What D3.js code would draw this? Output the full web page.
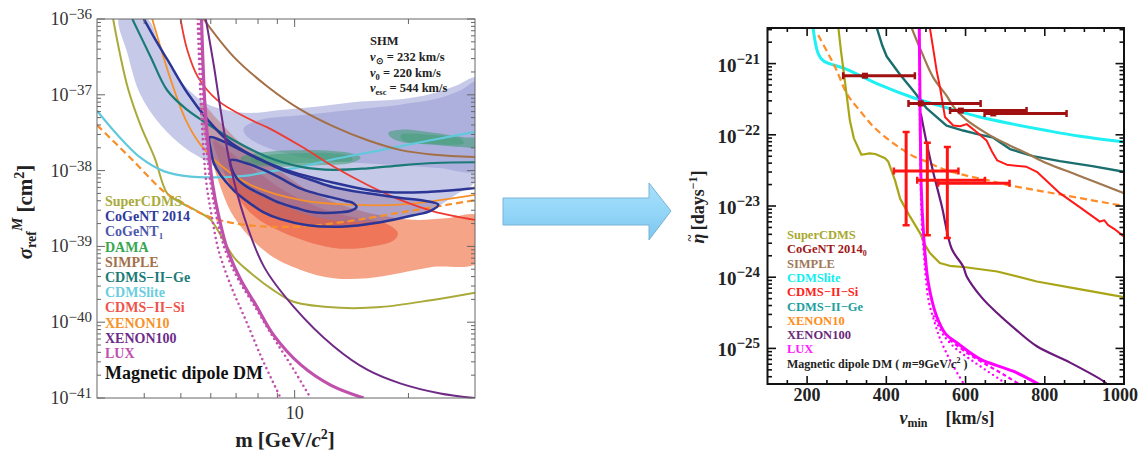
<!DOCTYPE html>
<html><head><meta charset="utf-8">
<script src="https://cdn.jsdelivr.net/npm/d3@7"></script>
<style>
body{margin:0;background:#fff;}
svg{display:block;}
text{font-family:'Liberation Serif','Times New Roman',Times,serif;}
</style></head><body>
<svg id="chart" width="1140" height="453" font-family="Liberation Serif, Times New Roman, serif"></svg>
<script>
"use strict";

// ---------- left panel data: [m (GeV), log10 sigma (cm^2)] ----------
const superCdmsL = [[3.31,-36],[3.44,-36.43],[3.62,-36.91],[3.91,-37.4],[4.26,-37.83],[4.6,-38.3],[4.9,-38.4],[5.64,-38.56],[6.0,-38.65],[6.9,-39.14],[7.65,-39.35],[8.8,-39.58],[9.94,-39.73],[13.2,-39.81],[16.9,-39.8],[22.9,-39.71],[30,-39.61]];
const cdmsLiteL = [[3,-37.21],[3.4,-37.53],[3.91,-37.83],[4.52,-38.01],[5.3,-38.08],[6.24,-38.09],[7.36,-38.07],[8.64,-38.01],[10.2,-37.96],[12.4,-37.86],[16.9,-37.73],[22.9,-37.6],[30,-37.49]];
const xenon10DashL = [[3,-37.4],[3.69,-37.84],[4.52,-38.28],[5.0,-38.41],[5.43,-38.52],[6.1,-38.63],[7.5,-38.72],[10.2,-38.74],[13.8,-38.67],[18.7,-38.56],[25.4,-38.45],[30,-38.39]];
const xenon10L = [[4.2,-36],[4.7,-36.8],[5.15,-37.33],[5.64,-37.66],[6.37,-37.93],[7.65,-38.19],[10.4,-38.39],[14,-38.45],[19,-38.45],[30,-38.32]];
const simpleL = [[5.74,-36],[6.9,-36.5],[8.47,-36.89],[10.4,-37.2],[12.7,-37.42],[15.6,-37.6],[19.1,-37.73],[23.4,-37.79],[30,-37.82]];
const cdmsGeL = [[3.72,-36],[4.16,-36.5],[4.6,-36.94],[5.2,-37.2],[5.87,-37.38],[6.9,-37.6],[8.47,-37.82],[10.4,-37.95],[12.7,-37.99],[15.6,-37.97],[19.1,-37.93],[23.4,-37.9],[30,-37.89]];
const cdmsSiL = [[4.99,-36],[5.2,-36.41],[5.54,-36.76],[6.24,-37.07],[7.65,-37.33],[8.47,-37.43],[10.4,-37.68],[12.7,-37.95],[15.6,-38.19],[19.1,-38.39],[23.4,-38.54],[30,-38.65]];
const cogentLineL = [[3.99,-36],[4.29,-36.28],[4.61,-36.54],[5.21,-36.98],[5.89,-37.33],[6.65,-37.6],[7.65,-37.79],[9.35,-37.98],[12.68,-38.16],[16.88,-38.28],[22.9,-38.28],[30,-38.23]];
const xenon100L = [[5.82,-36],[6.12,-36.63],[6.37,-37.2],[6.77,-37.95],[7.35,-38.61],[8.3,-39.27],[9.96,-39.8],[12.7,-40.32],[15.6,-40.63],[19.1,-40.81],[24.3,-40.94],[30,-41]];
const luxL = [[5.67,-36],[5.78,-37.07],[5.92,-37.73],[6.07,-38.19],[6.29,-38.59],[6.65,-39.05],[7.2,-39.44],[7.89,-39.77],[8.8,-40.17],[10.37,-40.56],[12.45,-40.83],[15.22,-41]];
const luxDotAL = [[5.54,-36],[5.64,-37.07],[5.74,-37.73],[5.85,-38.19],[6.03,-38.59],[6.29,-39.05],[6.77,-39.51],[7.42,-39.97],[8.23,-40.5],[9.18,-41]];
const luxDotBL = [[5.6,-36],[5.72,-37.07],[5.85,-37.73],[6.0,-38.19],[6.2,-38.59],[6.55,-39.05],[7.1,-39.44],[7.8,-39.77],[8.7,-40.17],[9.76,-40.56],[11.02,-41]];

// regions (closed outlines)
const cogent1Light = [[4.08,-36],[4.42,-36.41],[4.84,-36.74],[5.31,-36.96],[5.82,-37.11],[6.57,-37.2],[7.65,-37.24],[9.18,-37.2],[11.71,-37.15],[14.95,-37.09],[19.07,-37.06],[22.9,-36.99],[26.7,-36.88],[30.5,-36.78],[30.5,-38.1],[26.7,-38.32],[22.9,-38.52],[19.07,-38.63],[14.95,-38.68],[11.71,-38.63],[9.18,-38.45],[7.2,-38.19],[5.89,-37.89],[5.12,-37.7],[4.42,-37.4],[3.91,-37.0],[3.62,-36.47],[3.44,-35.98]];
const cogent1Dark = [[7.33,-37.44],[8.13,-37.33],[10.37,-37.27],[14.06,-37.2],[19.07,-37.13],[24.33,-37.04],[27.49,-36.94],[30.5,-36.83],[30.5,-37.99],[24.33,-37.97],[19.07,-37.93],[14.95,-37.9],[11.71,-37.86],[9.76,-37.79],[8.13,-37.66],[7.42,-37.53]];
const siLight = [[5.64,-37.11],[6.37,-37.37],[7.2,-37.64],[8.13,-37.82],[9.58,-38.08],[11.22,-38.3],[13.81,-38.48],[16.88,-38.59],[20.6,-38.65],[25.08,-38.63],[30.5,-38.6],[30.5,-39.21],[23.32,-39.27],[19.07,-39.35],[15.6,-39.42],[12.68,-39.42],[10.37,-39.31],[8.48,-39.09],[6.9,-38.61],[6.11,-37.95],[5.74,-37.5]];
const siDark = [[6.11,-37.6],[6.65,-37.73],[7.65,-37.95],[9.35,-38.26],[11.5,-38.48],[14.06,-38.61],[17.3,-38.69],[18.75,-38.82],[18.3,-38.92],[15.6,-39.01],[12.68,-39.02],[9.35,-38.82],[7.65,-38.56],[6.65,-38.12]];
const cogentOuter = [[5.96,-37.56],[6.37,-37.6],[7.2,-37.73],[8.13,-37.86],[9.35,-38.0],[11.02,-38.12],[12.68,-38.22],[15.6,-38.3],[19.07,-38.36],[22.2,-38.4],[24.0,-38.45],[22.9,-38.53],[20.6,-38.59],[16.88,-38.68],[13.23,-38.74],[10.82,-38.72],[9.18,-38.64],[8.28,-38.55],[7.42,-38.39],[6.9,-38.26],[6.37,-38.06],[6.11,-37.9],[6.0,-37.73]];
const cogentInner = [[6.77,-37.86],[7.42,-37.9],[8.28,-37.99],[9.18,-38.1],[10.18,-38.22],[11.36,-38.3],[12.45,-38.35],[13.64,-38.4],[14.3,-38.43],[14.58,-38.48],[14.06,-38.53],[13.23,-38.55],[11.22,-38.55],[10.06,-38.49],[9.18,-38.43],[8.23,-38.32],[7.51,-38.22],[7.03,-38.1],[6.81,-37.97]];
const damaA = [[7.2,-37.83],[8.48,-37.75],[10.37,-37.73],[12.6,-37.74],[14.4,-37.78],[14.95,-37.83],[14.06,-37.9],[11.5,-37.93],[9.4,-37.95],[7.8,-37.93],[7.3,-37.89]];
const damaAin = [[7.65,-37.85],[8.64,-37.79],[10.37,-37.77],[12.45,-37.77],[14.06,-37.81],[14.23,-37.86],[12.45,-37.89],[10.37,-37.9],[8.64,-37.91],[7.75,-37.89]];
const damaB = [[17.7,-37.5],[19.07,-37.46],[23.3,-37.5],[28,-37.56],[30.5,-37.58],[30.5,-37.69],[27.5,-37.69],[23.3,-37.66],[19.07,-37.62],[17.95,-37.56]];
const damaBin = [[19.07,-37.53],[22.9,-37.53],[27.5,-37.58],[28,-37.64],[22.9,-37.65],[19.3,-37.6]];

// ---------- right panel data: [vmin (km/s), log10 eta (days^-1)] ----------
const cdmsLiteR = [[215,-20.5],[228,-20.86],[241,-20.96],[300,-21.08],[384,-21.3],[468,-21.48],[552,-21.62],[636,-21.75],[720,-21.85],[805,-21.94],[889,-22.02],[1000,-22.1]];
const xenon10R = [[228,-20.6],[257,-20.9],[275,-21.1],[300,-21.42],[333,-21.66],[370,-21.9],[418,-22.12],[468,-22.3],[502,-22.38],[552,-22.5],[600,-22.57],[650,-22.63],[712,-22.71],[800,-22.8],[890,-22.89],[1000,-23.0]];
const superCdmsR = [[279,-20.5],[285,-20.8],[292,-21.1],[300,-21.45],[308,-21.8],[318,-22.05],[337,-22.28],[358,-22.26],[372,-22.27],[397,-22.33],[405,-22.38],[422,-22.64],[435,-22.9],[460,-23.15],[485,-23.38],[498,-23.55],[510,-23.66],[535,-23.8],[560,-23.84],[600,-23.86],[680,-23.92],[780,-24.06],[880,-24.16],[1000,-24.28]];
const cdmsGeR = [[376,-20.5],[390,-20.75],[401,-20.9],[434,-21.15],[468,-21.38],[485,-21.5],[502,-21.63],[552,-21.87],[594,-21.94],[630,-21.99],[670,-22.04],[712,-22.2],[770,-22.3],[838,-22.37],[920,-22.44],[1000,-22.52]];
const simpleR = [[464,-20.5],[490,-20.85],[519,-21.2],[552,-21.45],[569,-21.6],[600,-21.78],[653,-21.98],[700,-22.12],[754,-22.26],[805,-22.4],[880,-22.56],[1000,-22.82]];
const cdmsSiR = [[510,-20.5],[520,-20.85],[527,-21.1],[536,-21.35],[548,-21.75],[569,-21.87],[586,-21.88],[603,-21.85],[628,-21.96],[653,-22.08],[668,-22.25],[680,-22.36],[704,-22.42],[754,-22.45],[780,-22.52],[805,-22.65],[838,-22.82],[889,-23.02],[939,-23.22],[950,-23.2],[960,-23.27],[975,-23.32],[1000,-23.43]];
const xenon100R = [[487,-21.7],[502,-22.12],[519,-22.54],[540,-23.0],[565,-23.6],[594,-23.85],[603,-23.99],[640,-24.28],[679,-24.5],[730,-24.75],[780,-24.97],[864,-25.2],[948,-25.46],[960,-25.52]];
const luxR = [[483,-20.45],[485,-21.5],[487,-22.5],[490,-23.0],[493,-23.3],[497,-23.62],[506,-24.08],[527,-24.55],[550,-24.8],[578,-24.92],[637,-25.15],[695,-25.27],[720,-25.32],[750,-25.4],[790,-25.52]];
const luxDotAR = [[483,-20.45],[486,-22.5],[490,-23.3],[494,-23.62],[506,-24.31],[520,-24.6],[536,-24.87],[555,-25.1],[569,-25.25],[598,-25.52]];
const luxDotBR = [[520,-24.55],[545,-24.82],[575,-25.0],[611,-25.15],[650,-25.3],[690,-25.45],[705,-25.52]];
const luxDotCR = [[560,-24.88],[600,-25.05],[650,-25.22],[700,-25.38],[740,-25.52]];
// CoGeNT 2014_0 bins: [v low, v centre, v high, log10 eta]
const cogent0Bins = [[291,346,472,-21.17],[456,487,638,-21.56],[561,588,754,-21.66],[648,670,855,-21.7]];
// CDMS-II-Si points: [v low, v centre, v high, eta low, eta centre, eta high]
const cdmsSiPts = [[419,450,582,-23.27,-22.51,-21.96],[478,503.5,649,-23.41,-22.64,-22.11],[531,554,711,-23.45,-22.68,-22.17]];

// tick values and labels
const decadesL = [-41,-40,-39,-38,-37,-36];
const decadesR = [-25,-24,-23,-22,-21];
const massTicksMinor = [4,5,6,7,8,9,20];
const massTicksMajor = [10];
const vTicksMajor = [200,400,600,800,1000];
const vTicksMinor = [150,250,300,350,450,500,550,650,700,750,850,900,950];

const legendL = [["SuperCDMS","#a9aa3a"],["CoGeNT 2014","#2e3a9c"],["CoGeNT","#4b58ad","1"],["DAMA","#37a650"],["SIMPLE","#a2704a"],["CDMS\u2212II\u2212Ge","#1b7a76"],["CDMSlite","#6ccde0"],["CDMS\u2212II\u2212Si","#f0524a"],["XENON10","#f7922a"],["XENON100","#6d2c8a"],["LUX","#c050b0"]];
const legendR = [["SuperCDMS","#a8a830"],["CoGeNT 2014","#a01818","0"],["SIMPLE","#a0785a"],["CDMSlite","#10eef0"],["CDMS\u2212II\u2212Si","#ff2020"],["CDMS\u2212II\u2212Ge","#20a0a0"],["XENON10","#ff8c1a"],["XENON100","#6a2a7a"],["LUX","#ff20ff"]];

// ---------- scales ----------
const xL = d3.scaleLog().domain([3,30]).range([97,475]);
const yL = d3.scaleLog().domain([1e-41,1e-36]).range([398,19]);
const xR = d3.scaleLinear().domain([100,1000]).range([767.5,1124]);
const yR = d3.scaleLog().domain([Math.pow(10,-25.5),Math.pow(10,-20.5)]).range([384,28]);

const svg = d3.select("#chart");
const defs = svg.append("defs");
defs.append("clipPath").attr("id","clipL").append("rect")
    .attr("x",97).attr("y",19).attr("width",378).attr("height",379);
defs.append("clipPath").attr("id","clipR").append("rect")
    .attr("x",767.5).attr("y",28).attr("width",356.5).attr("height",356);

const lineL = d3.line().x(d => xL(d[0])).y(d => yL(Math.pow(10,d[1]))).curve(d3.curveCatmullRom.alpha(0.5));
const shapeL = d3.line().x(d => xL(d[0])).y(d => yL(Math.pow(10,d[1]))).curve(d3.curveCatmullRomClosed.alpha(0.5));
const smoothR = d3.line().x(d => xR(d[0])).y(d => yR(Math.pow(10,d[1]))).curve(d3.curveCatmullRom.alpha(0.5));
const jaggedR = d3.line().x(d => xR(d[0])).y(d => yR(Math.pow(10,d[1]))).curve(d3.curveLinear);

// ---------- left panel ----------
const gL = svg.append("g").attr("clip-path","url(#clipL)");

function region(data, fill, opacity) {
    gL.append("path").attr("d", shapeL(data)).attr("fill", fill).attr("fill-opacity", opacity);
}
region(siLight, "#f6a487", 1);
region(siDark, "#ef7658", 1);
region(cogent1Light, "#8e93d0", 0.5);
region(cogent1Dark, "#8e93d0", 0.45);
region(cogentOuter, "#6a2f70", 0.25);
region(damaA, "#2f9a66", 0.5);
region(damaAin, "#2f9a66", 0.4);
region(damaB, "#2f9a66", 0.5);
region(damaBin, "#2f9a66", 0.4);

function curveL(data, color, width, dash) {
    gL.append("path").attr("d", lineL(data)).attr("fill","none")
        .attr("stroke", color).attr("stroke-width", width)
        .attr("stroke-dasharray", dash || null)
        .attr("stroke-linecap", dash === "0 5" ? "round" : "butt");
}
curveL(superCdmsL, "#a9aa3a", 2);
curveL(cdmsLiteL, "#62c9dd", 2.2);
curveL(xenon10DashL, "#f7902a", 2.2, "7 4");
curveL(xenon10L, "#f7902a", 1.8);
curveL(simpleL, "#a36f45", 2);
curveL(cdmsGeL, "#1a7a76", 2.2);
curveL(cdmsSiL, "#ee3a30", 1.8);
curveL(cogentLineL, "#2b3595", 2.5);
gL.append("path").attr("d", shapeL(cogentOuter)).attr("fill","none").attr("stroke","#2b3595").attr("stroke-width",2.5);
gL.append("path").attr("d", shapeL(cogentInner)).attr("fill","none").attr("stroke","#2b3595").attr("stroke-width",2.5);
curveL(xenon100L, "#6f2a86", 2);
curveL(luxDotAL, "#c050ac", 2.6, "0 5");
curveL(luxDotBL, "#c050ac", 2.6, "0 5");
curveL(luxL, "#c050ac", 3.2);

// frame and ticks (left)
svg.append("rect").attr("x",97).attr("y",19).attr("width",378).attr("height",379)
    .attr("fill","none").attr("stroke","#666").attr("stroke-width",1);

const tkL = svg.append("g");
const minorYL = [];
decadesL.slice(0,-1).forEach(d => { for (let k = 2; k < 10; k++) minorYL.push(k*Math.pow(10,d)); });
decadesL.forEach(d => {
    const y = yL(Math.pow(10,d));
    tkL.append("line").attr("x1",97).attr("x2",105).attr("y1",y).attr("y2",y);
    tkL.append("line").attr("x1",475).attr("x2",467).attr("y1",y).attr("y2",y);
});
minorYL.forEach(v => {
    const y = yL(v);
    tkL.append("line").attr("x1",97).attr("x2",101).attr("y1",y).attr("y2",y);
    tkL.append("line").attr("x1",475).attr("x2",471).attr("y1",y).attr("y2",y);
});
massTicksMinor.concat(massTicksMajor).forEach(m => {
    const x = xL(m), len = massTicksMajor.includes(m) ? 8 : 5;
    tkL.append("line").attr("x1",x).attr("x2",x).attr("y1",398).attr("y2",398-len);
    tkL.append("line").attr("x1",x).attr("x2",x).attr("y1",19).attr("y2",19+len);
});
tkL.selectAll("line").attr("stroke","#666").attr("stroke-width",1);

decadesL.forEach(d => {
    const t = svg.append("text").attr("x",92).attr("y",yL(Math.pow(10,d))+6)
        .attr("text-anchor","end").attr("fill","#333").attr("font-size",18);
    t.append("tspan").text("10");
    t.append("tspan").attr("font-size",15).attr("dy",-6).text("\u2212" + Math.abs(d));
});
massTicksMajor.forEach(m => {
    svg.append("text").attr("x",xL(m)).attr("y",419).attr("text-anchor","middle")
        .attr("fill","#333").attr("font-size",18).text(m);
});

// axis titles (left)
const xtL = svg.append("text").attr("x",285).attr("y",447).attr("text-anchor","middle")
    .attr("font-size",21).attr("font-weight","bold").attr("fill","#222");
xtL.append("tspan").text("m [GeV/");
xtL.append("tspan").attr("font-style","italic").text("c");
xtL.append("tspan").attr("font-size",14).attr("dy",-8).text("2");
xtL.append("tspan").attr("dy",8).text("]");

const ytL = svg.append("text").attr("transform","translate(32,212) rotate(-90)")
    .attr("text-anchor","middle").attr("font-size",21).attr("font-weight","bold").attr("fill","#222");
ytL.append("tspan").attr("font-style","italic").text("\u03c3");
ytL.append("tspan").attr("font-size",14).attr("dy",4).text("ref");
ytL.append("tspan").attr("font-size",15).attr("font-style","italic").attr("dy",-14).text("M");
ytL.append("tspan").attr("dy",10).text(" [cm");
ytL.append("tspan").attr("font-size",14).attr("dy",-8).text("2");
ytL.append("tspan").attr("dy",8).text("]");

// SHM box
const shm = svg.append("g").attr("font-size",12.5).attr("font-weight","bold").attr("fill","#222");
shm.append("text").attr("x",370).attr("y",45).text("SHM");
[["\u2299","232"],["0","220"],["esc","544"]].forEach((r,i) => {
    const t = shm.append("text").attr("x",370).attr("y",61 + i*15.5);
    t.append("tspan").attr("font-style","italic").text("v");
    t.append("tspan").attr("font-size",8.5).attr("dy",3).text(r[0]);
    t.append("tspan").attr("dy",-3).text(" = " + r[1] + " km/s");
});

// legend left
legendL.forEach((l,i) => {
    const t = svg.append("text").attr("x",105).attr("y",206 + i*15.2)
        .attr("font-size",14).attr("font-weight","bold").attr("fill",l[1]);
    t.append("tspan").text(l[0]);
    if (l[2]) t.append("tspan").attr("font-size",9).attr("dy",3).text(l[2]);
});
svg.append("text").attr("x",105).attr("y",379).attr("font-size",18)
    .attr("font-weight","bold").attr("fill","#111").text("Magnetic dipole DM");

// ---------- arrow ----------
const grad = defs.append("linearGradient").attr("id","arrowGrad")
    .attr("x1",0).attr("y1",0).attr("x2",0).attr("y2",1);
grad.append("stop").attr("offset","0%").attr("stop-color","#a8e0fb");
grad.append("stop").attr("offset","50%").attr("stop-color","#94d6f8");
grad.append("stop").attr("offset","100%").attr("stop-color","#7cc6ee");
svg.append("path")
    .attr("d","M503,198 L649,198 L649,183 L671,211 L649,240 L649,225 L503,225 Z")
    .attr("fill","url(#arrowGrad)").attr("stroke","#78b4d8").attr("stroke-width",1);

// ---------- right panel ----------
const gR = svg.append("g").attr("clip-path","url(#clipR)");
function curveR(data, color, width, smooth, dash) {
    gR.append("path").attr("d", (smooth ? smoothR : jaggedR)(data)).attr("fill","none")
        .attr("stroke", color).attr("stroke-width", width)
        .attr("stroke-linejoin","round")
        .attr("stroke-dasharray", dash || null)
        .attr("stroke-linecap", dash === "0 5" ? "round" : "butt");
}
curveR(cdmsLiteR, "#1ef0f4", 3, true);
curveR(xenon10R, "#ff8c28", 2.2, true, "7 4");
curveR(superCdmsR, "#a8a616", 2.2, false);
curveR(cdmsGeR, "#1b6e6e", 2.4, false);
curveR(simpleR, "#a07850", 2.2, true);
curveR(cdmsSiR, "#ff1a1a", 2, false);
curveR(xenon100R, "#6a1a7a", 2.2, true);
curveR(luxDotAR, "#ff00ff", 2.4, true, "0 5");
curveR(luxDotBR, "#ff00ff", 2.4, true, "0 5");
curveR(luxDotCR, "#ff00ff", 2.2, true, "4 3");
curveR(luxR, "#ff00ff", 3, true);

// CoGeNT 2014_0 bins
cogent0Bins.forEach(b => {
    const y = yR(Math.pow(10,b[3]));
    gR.append("line").attr("x1",xR(b[0])).attr("x2",xR(b[2])).attr("y1",y).attr("y2",y)
        .attr("stroke","#a01010").attr("stroke-width",3);
    [b[0], b[2]].forEach(v => gR.append("line").attr("x1",xR(v)).attr("x2",xR(v))
        .attr("y1",y-3.5).attr("y2",y+3.5).attr("stroke","#a01010").attr("stroke-width",2.5));
    gR.append("rect").attr("x",xR(b[1])-3).attr("y",y-3).attr("width",6).attr("height",6).attr("fill","#a01010");
});
// CDMS-II-Si points
cdmsSiPts.forEach(p => {
    const yc = yR(Math.pow(10,p[4])), xc = xR(p[1]);
    const col = "#ff1414";
    gR.append("line").attr("x1",xR(p[0])).attr("x2",xR(p[2])).attr("y1",yc).attr("y2",yc)
        .attr("stroke",col).attr("stroke-width",3);
    gR.append("line").attr("x1",xc).attr("x2",xc).attr("y1",yR(Math.pow(10,p[3]))).attr("y2",yR(Math.pow(10,p[5])))
        .attr("stroke",col).attr("stroke-width",3);
    [p[0], p[2]].forEach(v => gR.append("line").attr("x1",xR(v)).attr("x2",xR(v))
        .attr("y1",yc-3.5).attr("y2",yc+3.5).attr("stroke",col).attr("stroke-width",2.5));
    [p[3], p[5]].forEach(e => gR.append("line").attr("x1",xc-3.5).attr("x2",xc+3.5)
        .attr("y1",yR(Math.pow(10,e))).attr("y2",yR(Math.pow(10,e))).attr("stroke",col).attr("stroke-width",2.5));
});

// frame and ticks (right)
const tkR = svg.append("g");
const minorYR = [];
[-26].concat(decadesR).forEach(d => { for (let k = 2; k < 10; k++) minorYR.push(k*Math.pow(10,d)); });
decadesR.forEach(d => {
    const y = yR(Math.pow(10,d));
    tkR.append("line").attr("x1",767.5).attr("x2",776).attr("y1",y).attr("y2",y);
    tkR.append("line").attr("x1",1124).attr("x2",1115.5).attr("y1",y).attr("y2",y);
});
minorYR.filter(v => v > Math.pow(10,-25.5) && v < Math.pow(10,-20.5)).forEach(v => {
    const y = yR(v);
    tkR.append("line").attr("x1",767.5).attr("x2",772).attr("y1",y).attr("y2",y);
    tkR.append("line").attr("x1",1124).attr("x2",1119.5).attr("y1",y).attr("y2",y);
});
vTicksMajor.concat(vTicksMinor).forEach(v => {
    const x = xR(v), len = vTicksMajor.includes(v) ? 8 : 4;
    tkR.append("line").attr("x1",x).attr("x2",x).attr("y1",384).attr("y2",384-len);
    tkR.append("line").attr("x1",x).attr("x2",x).attr("y1",28).attr("y2",28+len);
});
tkR.selectAll("line").attr("stroke","#111").attr("stroke-width",1.6);
svg.append("rect").attr("x",767.5).attr("y",28).attr("width",356.5).attr("height",356)
    .attr("fill","none").attr("stroke","#111").attr("stroke-width",2);

decadesR.forEach(d => {
    const t = svg.append("text").attr("x",760).attr("y",yR(Math.pow(10,d))+8)
        .attr("text-anchor","end").attr("fill","#222").attr("font-size",19).attr("font-weight","bold");
    t.append("tspan").text("10");
    t.append("tspan").attr("font-size",15).attr("dy",-8).text("\u2212" + Math.abs(d));
});
vTicksMajor.forEach((v,i) => {
    const last = i === vTicksMajor.length - 1;
    svg.append("text").attr("x",last ? 1138 : xR(v)).attr("y",401)
        .attr("text-anchor",last ? "end" : "middle")
        .attr("fill","#222").attr("font-size",18).attr("font-weight","bold").text(v);
});

const xtR = svg.append("text").attr("x",947).attr("y",424).attr("text-anchor","middle")
    .attr("font-size",18).attr("font-weight","bold").attr("fill","#222");
xtR.append("tspan").attr("font-style","italic").text("v");
xtR.append("tspan").attr("font-size",12).attr("dy",3).text("min");
xtR.append("tspan").attr("dy",-3).text("\u2003[km/s]");

const ytR = svg.append("text").attr("transform","translate(704,207) rotate(-90)")
    .attr("text-anchor","middle").attr("font-size",18).attr("font-weight","bold").attr("fill","#222");
ytR.append("tspan").attr("font-style","italic").text("\u03b7");
ytR.append("tspan").attr("font-size",13).attr("dx",-8).attr("dy",-10).text("~");
ytR.append("tspan").attr("dy",10).text(" [days");
ytR.append("tspan").attr("font-size",12).attr("dy",-7).text("\u22121");
ytR.append("tspan").attr("dy",7).text("]");

// legend right
legendR.forEach((l,i) => {
    const t = svg.append("text").attr("x",787).attr("y",239 + i*14.3)
        .attr("font-size",12.5).attr("font-weight","bold").attr("fill",l[1]);
    t.append("tspan").text(l[0]);
    if (l[2]) t.append("tspan").attr("font-size",8).attr("dy",3).text(l[2]);
});
const md = svg.append("text").attr("x",787).attr("y",368).attr("font-size",12)
    .attr("font-weight","bold").attr("fill","#222");
md.append("tspan").text("Magnetic dipole DM ( ");
md.append("tspan").attr("font-style","italic").text("m");
md.append("tspan").text("=9GeV/");
md.append("tspan").attr("font-style","italic").text("c");
md.append("tspan").attr("font-size",8).attr("dy",-5).text("2");
md.append("tspan").attr("dy",5).text(" )");
</script>
</body></html>
